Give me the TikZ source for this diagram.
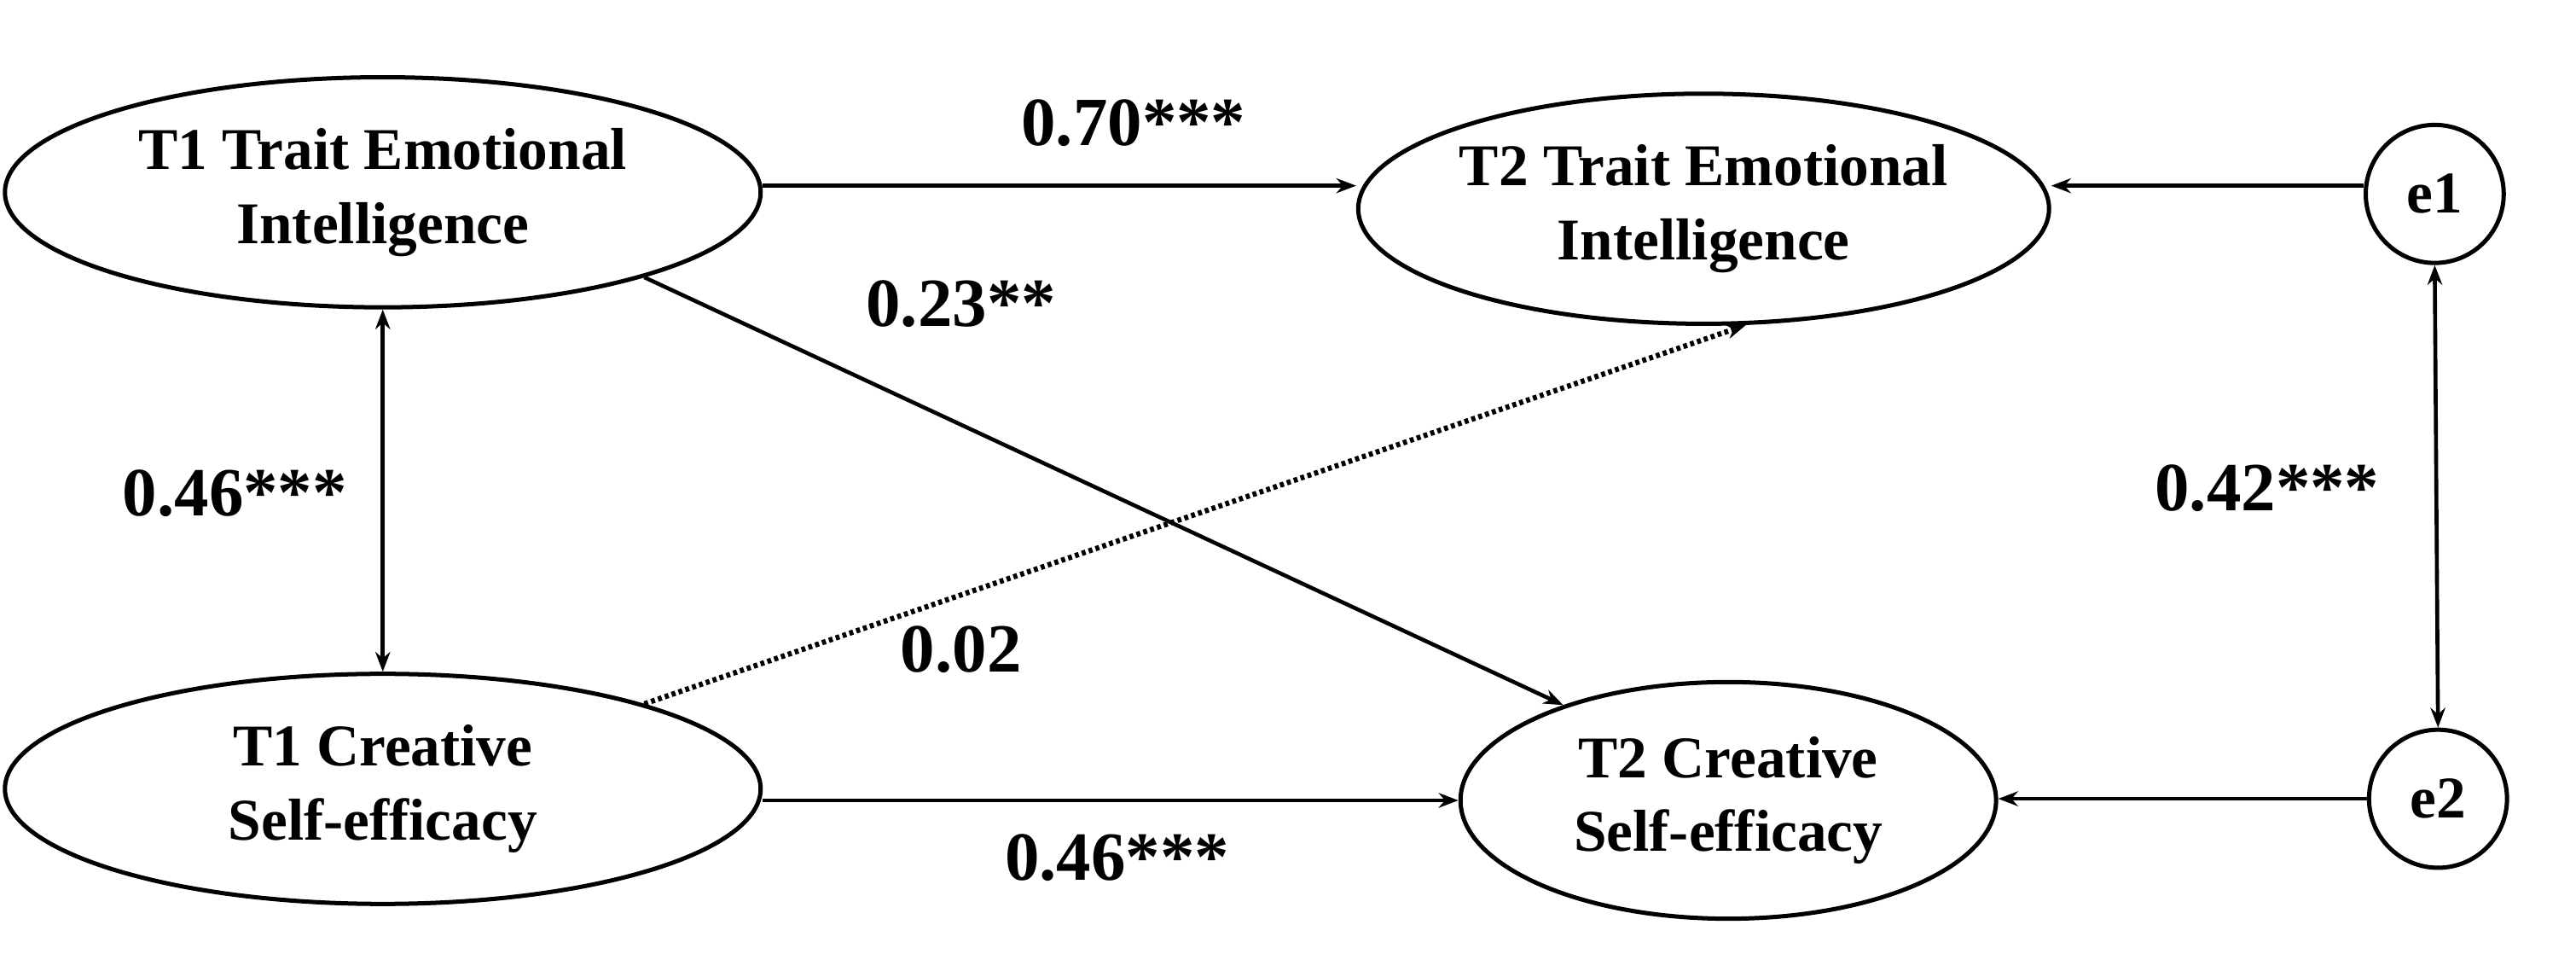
\documentclass[tikz,border=0pt]{standalone}
\usepackage{fontspec}
\setmainfont{Liberation Serif}
\usetikzlibrary{arrows.meta,shapes.geometric}
\begin{document}
\begin{tikzpicture}[x=1pt,y=-1pt,
  lat/.style={draw,ellipse,line width=2.6pt,align=center,font=\fontsize{36}{45}\selectfont\bfseries,inner sep=0pt},
  err/.style={draw,circle,line width=2.6pt,minimum size=84pt,font=\fontsize{36}{40}\selectfont\bfseries,inner sep=0pt},
  arr/.style={line width=2.4pt,-{Stealth[length=12pt,width=9pt]}},
  darr/.style={line width=2.4pt,{Stealth[length=12pt,width=9pt]}-{Stealth[length=12pt,width=9pt]}},
  lab/.style={font=\fontsize{42}{46}\selectfont\bfseries}]
\useasboundingbox (0,0) rectangle (1568,580);
\node[lat,minimum width=460pt,minimum height=140pt] (a) at (233,117) {T1 Trait Emotional\\Intelligence};
\node[lat,minimum width=328pt,minimum height=140pt] (b) at (1037,127) {T2 Trait Emotional\\Intelligence};
\node[lat,minimum width=460pt,minimum height=140pt] (c) at (233,480) {T1 Creative\\Self-efficacy};
\node[lat,minimum width=326pt,minimum height=144pt] (d) at (1052,487) {T2 Creative\\Self-efficacy};
\node[err] (e1) at (1482,118) {e1};
\node[err] (e2) at (1484,486) {e2};
\draw[arr] (a.east |- 0,113) -- (b.west |- 0,113);
\draw[arr] (a.-18) -- (d.150);
\draw[arr,dotted,line width=3.2pt] (c.18) -- (b.-70);
\draw[arr] (c.east |- 0,487) -- (d.west |- 0,487);
\draw[darr] (a.south) -- (c.north);
\draw[darr] (e1.south) -- (e2.north);
\draw[arr] (e1.west |- 0,113) -- (b.east |- 0,113);
\draw[arr] (e2) -- (d.east |- 0,486);
\node[lab] (l1) at (690,75) {0.70***};
\node[lab] (l2) at (585,185) {0.23**};
\node[lab] (l3) at (143,300) {0.46***};
\node[lab] (l4) at (585,395) {0.02};
\node[lab] (l5) at (680,522) {0.46***};
\node[lab] (l6) at (1380,297) {0.42***};
\end{tikzpicture}
\end{document}
